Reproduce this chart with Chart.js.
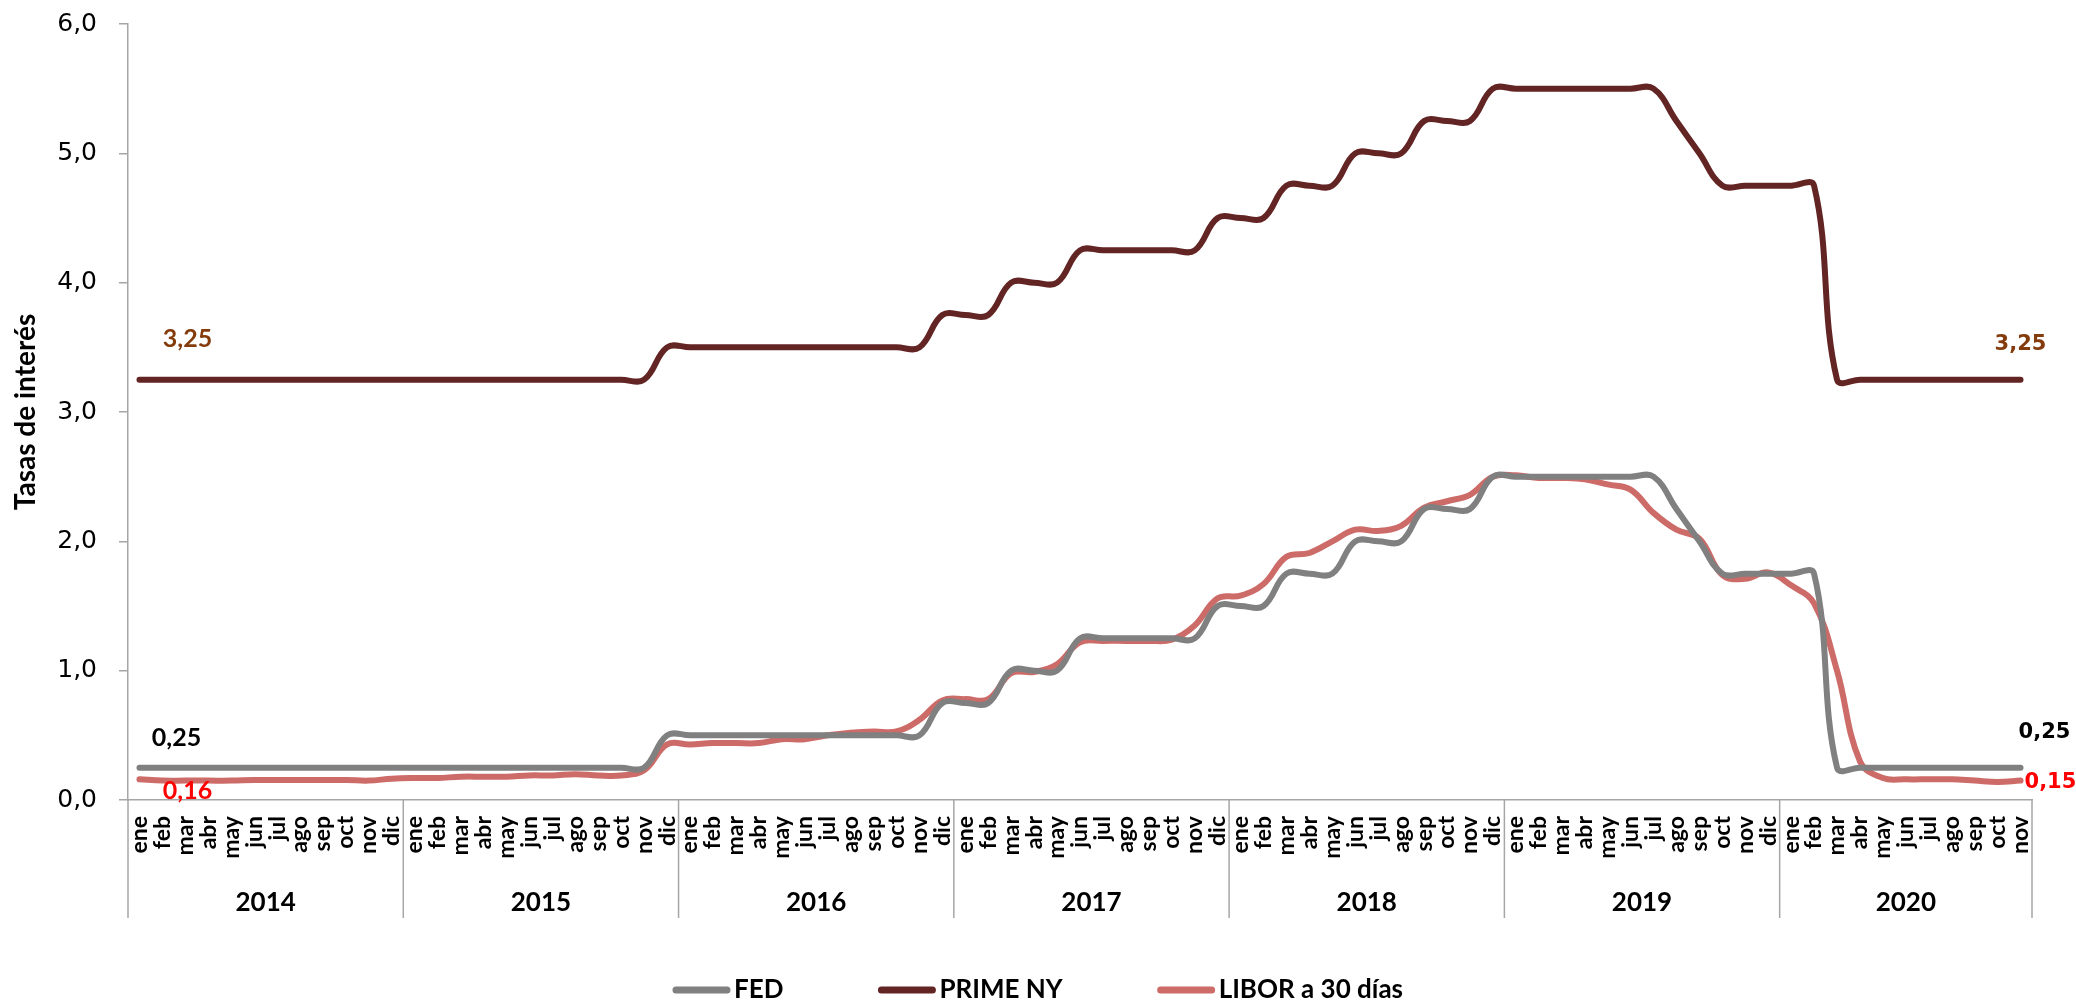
<!DOCTYPE html>
<html>
<head>
<meta charset="utf-8">
<script src="https://cdn.jsdelivr.net/npm/chart.js@4.4.1/dist/chart.umd.min.js"></script>
<style>
  html, body { margin: 0; padding: 0; background: #fff; }
  #wrap { width: 2076px; height: 1002px; }
</style>
</head>
<body>
<div id="wrap"><canvas id="chart" width="2076" height="1002"></canvas></div>
<script>
// months per year, 2014 through nov 2020
const monthNames = ["ene", "feb", "mar", "abr", "may", "jun", "jul", "ago", "sep", "oct", "nov", "dic"];
const years = ["2014", "2015", "2016", "2017", "2018", "2019", "2020"];
const monthsPerYear = [12, 12, 12, 12, 12, 12, 11];

const fed = [
  0.25, 0.25, 0.25, 0.25, 0.25, 0.25, 0.25, 0.25, 0.25, 0.25, 0.25, 0.25,
  0.25, 0.25, 0.25, 0.25, 0.25, 0.25, 0.25, 0.25, 0.25, 0.25, 0.25, 0.50,
  0.50, 0.50, 0.50, 0.50, 0.50, 0.50, 0.50, 0.50, 0.50, 0.50, 0.50, 0.75,
  0.75, 0.75, 1.00, 1.00, 1.00, 1.25, 1.25, 1.25, 1.25, 1.25, 1.25, 1.50,
  1.50, 1.50, 1.75, 1.75, 1.75, 2.00, 2.00, 2.00, 2.25, 2.25, 2.25, 2.50,
  2.50, 2.50, 2.50, 2.50, 2.50, 2.50, 2.50, 2.25, 2.00, 1.75, 1.75, 1.75,
  1.75, 1.75, 0.25, 0.25, 0.25, 0.25, 0.25, 0.25, 0.25, 0.25, 0.25
];
const primeNY = [
  3.25, 3.25, 3.25, 3.25, 3.25, 3.25, 3.25, 3.25, 3.25, 3.25, 3.25, 3.25,
  3.25, 3.25, 3.25, 3.25, 3.25, 3.25, 3.25, 3.25, 3.25, 3.25, 3.25, 3.50,
  3.50, 3.50, 3.50, 3.50, 3.50, 3.50, 3.50, 3.50, 3.50, 3.50, 3.50, 3.75,
  3.75, 3.75, 4.00, 4.00, 4.00, 4.25, 4.25, 4.25, 4.25, 4.25, 4.25, 4.50,
  4.50, 4.50, 4.75, 4.75, 4.75, 5.00, 5.00, 5.00, 5.25, 5.25, 5.25, 5.50,
  5.50, 5.50, 5.50, 5.50, 5.50, 5.50, 5.50, 5.25, 5.00, 4.75, 4.75, 4.75,
  4.75, 4.75, 3.25, 3.25, 3.25, 3.25, 3.25, 3.25, 3.25, 3.25, 3.25
];
const libor30 = [
  0.16, 0.15, 0.15, 0.15, 0.15, 0.155, 0.155, 0.155, 0.155, 0.155, 0.15, 0.165,
  0.17, 0.17, 0.18, 0.18, 0.18, 0.19, 0.19, 0.20, 0.19, 0.19, 0.23, 0.43,
  0.43, 0.44, 0.44, 0.44, 0.47, 0.47, 0.50, 0.52, 0.53, 0.53, 0.62, 0.77,
  0.78, 0.78, 0.98, 0.99, 1.05, 1.22, 1.23, 1.23, 1.23, 1.24, 1.35, 1.56,
  1.58, 1.67, 1.88, 1.91, 2.00, 2.09, 2.08, 2.12, 2.26, 2.31, 2.36, 2.50,
  2.51, 2.49, 2.49, 2.48, 2.44, 2.40, 2.22, 2.09, 2.02, 1.74, 1.71, 1.76,
  1.66, 1.52, 1.00, 0.30, 0.17, 0.16, 0.16, 0.16, 0.15, 0.14, 0.15
];

const labels = [];
years.forEach((y, k) => {
  for (let m = 0; m < monthsPerYear[k]; m++) labels.push(monthNames[m]);
});

const fmt = v => v.toFixed(2).replace(".", ",");

// year row under the month labels, with the divider lines
const yearAxis = {
  id: "yearAxis",
  afterDraw(chart) {
    const x = chart.scales.x, ctx = chart.ctx;
    const half = (x.getPixelForValue(1) - x.getPixelForValue(0)) / 2;
    const top = chart.chartArea.bottom;
    ctx.save();
    ctx.strokeStyle = "#A6A6A6";
    ctx.lineWidth = 1.5;
    ctx.fillStyle = "#000";
    ctx.font = "bold 26px Lato";
    ctx.textAlign = "center";
    ctx.textBaseline = "middle";
    let start = 0, right = 0;
    years.forEach((yr, k) => {
      const left = x.getPixelForValue(start) - half;
      right = x.getPixelForValue(start + monthsPerYear[k] - 1) + half;
      ctx.beginPath();
      ctx.moveTo(left, top);
      ctx.lineTo(left, top + 118);
      ctx.stroke();
      ctx.fillText(yr, (left + right) / 2, top + 103);
      start += monthsPerYear[k];
    });
    ctx.beginPath();
    ctx.moveTo(right, top);
    ctx.lineTo(right, top + 118);
    ctx.stroke();
    ctx.restore();
  }
};

// value labels at first and last point of each line
const endLabels = {
  id: "endLabels",
  afterDatasetsDraw(chart) {
    const ctx = chart.ctx;
    const last = labels.length - 1;
    const pt = (ds, i) => chart.getDatasetMeta(ds).data[i];
    ctx.save();
    ctx.textBaseline = "middle";
    ctx.textAlign = "center";
    ctx.font = "bold 25px Lato";
    let p = pt(1, 0);
    ctx.fillStyle = "#843C0C";
    ctx.fillText(fmt(primeNY[0]), p.x + 48, p.y - 41);
    p = pt(0, 0);
    ctx.fillStyle = "#000";
    ctx.fillText(fmt(fed[0]), p.x + 37, p.y - 30);
    p = pt(2, 0);
    ctx.fillStyle = "#FF0000";
    ctx.fillText(fmt(libor30[0]), p.x + 48, p.y + 12);

    ctx.font = "bold 21px 'DejaVu Sans'";
    p = pt(1, last);
    ctx.fillStyle = "#843C0C";
    ctx.fillText(fmt(primeNY[last]), p.x, p.y - 35);
    p = pt(0, last);
    ctx.fillStyle = "#000";
    ctx.fillText(fmt(fed[last]), p.x + 24, p.y - 35);
    p = pt(2, last);
    ctx.fillStyle = "#FF0000";
    ctx.textAlign = "left";
    ctx.fillText(fmt(libor30[last]), p.x + 4, p.y + 2);
    ctx.restore();
  }
};

// legend drawn by hand so the spacing matches
const lineLegend = {
  id: "lineLegend",
  afterDraw(chart) {
    const ctx = chart.ctx;
    const items = chart.data.datasets;
    const lineW = 57, gap = 4, space = 95, y = 990;
    ctx.save();
    ctx.font = "bold 26px Lato";
    const widths = items.map(d => lineW + gap + ctx.measureText(d.label).width);
    const total = widths.reduce((a, b) => a + b, 0) + space * (items.length - 1);
    let x = chart.width / 2 - total / 2;
    ctx.textBaseline = "middle";
    ctx.textAlign = "left";
    items.forEach((d, i) => {
      ctx.strokeStyle = d.borderColor;
      ctx.lineWidth = 7;
      ctx.lineCap = "round";
      ctx.beginPath();
      ctx.moveTo(x + 3, y);
      ctx.lineTo(x + lineW - 3, y);
      ctx.stroke();
      ctx.fillStyle = "#000";
      ctx.fillText(d.label, x + lineW + gap, y);
      x += widths[i] + space;
    });
    ctx.restore();
  }
};

new Chart(document.getElementById("chart"), {
  type: "line",
  data: {
    labels: labels,
    datasets: [
      { label: "FED", data: fed, borderColor: "#808080" },
      { label: "PRIME NY", data: primeNY, borderColor: "#632523" },
      { label: "LIBOR a 30 días", data: libor30, borderColor: "#CC6B68" }
    ]
  },
  options: {
    responsive: false,
    animation: false,
    layout: { padding: { top: 24, right: 44, bottom: 62, left: 0 } },
    elements: {
      line: { borderWidth: 6, tension: 0.4, borderCapStyle: "round", borderJoinStyle: "round" },
      point: { radius: 0 }
    },
    plugins: {
      legend: { display: false },
      tooltip: { enabled: false }
    },
    scales: {
      x: {
        offset: true,
        grid: { display: false, drawTicks: false },
        border: { display: true, color: "#A6A6A6", width: 1.5 },
        ticks: {
          autoSkip: false,
          maxRotation: 90,
          minRotation: 90,
          padding: 16,
          color: "#000",
          font: { family: "Lato", weight: "bold", size: 23 }
        },
        afterFit(scale) {
          scale.height = 140;
          scale.paddingLeft = 0;
          scale.paddingRight = 0;
        }
      },
      y: {
        min: 0,
        max: 6,
        grid: { drawOnChartArea: false, drawTicks: true, tickLength: 9, color: "#A6A6A6", lineWidth: 1.5 },
        border: { display: true, color: "#A6A6A6", width: 1.5 },
        ticks: {
          stepSize: 1,
          padding: 22,
          color: "#000",
          font: { family: "DejaVu Sans", size: 25 },
          callback: v => v.toFixed(1).replace(".", ",")
        },
        title: {
          display: true,
          text: "Tasas de interés",
          color: "#000",
          padding: { top: 9, bottom: 0 },
          font: { family: "Lato", weight: "bold", size: 28 }
        },
        afterFit(scale) {
          scale.width = 128;
          scale.paddingTop = 0;
          scale.paddingBottom = 0;
        }
      }
    }
  },
  plugins: [yearAxis, endLabels, lineLegend]
});
</script>
</body>
</html>
